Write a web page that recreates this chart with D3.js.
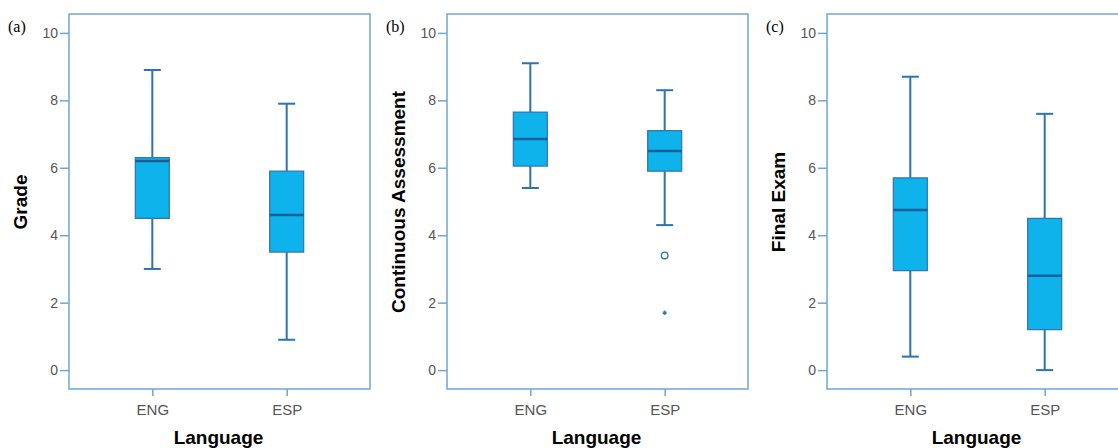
<!DOCTYPE html>
<html>
<head>
<meta charset="utf-8">
<script src="https://cdn.jsdelivr.net/npm/d3@7"></script>
<style>
    body { margin: 0; background: #fff; }
    svg { display: block; }
</style>
</head>
<body>
<script>
// categories on the x axis of every panel
const categories = ["ENG", "ESP"];
const yTicks = [0, 2, 4, 6, 8, 10];

// box stats: [lower whisker, Q1, median, Q3, upper whisker]
const gradeStats = [[3.0, 4.5, 6.2, 6.3, 8.9], [0.9, 3.5, 4.6, 5.9, 7.9]];
const continuousStats = [[5.4, 6.05, 6.85, 7.65, 9.1], [4.3, 5.9, 6.5, 7.1, 8.3]];
const finalStats = [[0.4, 2.95, 4.75, 5.7, 8.7], [0.0, 1.2, 2.8, 4.5, 7.6]];

// outliers (circle) and extremes (star)
const continuousOutliers = [
    { cat: "ESP", value: 3.4, kind: "circle" },
    { cat: "ESP", value: 1.7, kind: "star" }
];

const panelLabels = ["(a)", "(b)", "(c)"];
const panelTitles = ["Grade", "Continuous Assessment", "Final Exam"];

const FILL = "#0db3ea";
const LINE = "#2d73ad";
const MEDIAN = "#1b5e98";
const FRAME = "#6ea7d2";
const TEXT = "#555";

const W = 1118, H = 448;
const svg = d3.select("body").append("svg").attr("width", W).attr("height", H);

const panels = [
    { left: 69, stats: gradeStats, outliers: [] },
    { left: 447, stats: continuousStats, outliers: continuousOutliers },
    { left: 827, stats: finalStats, outliers: [] }
];
const frameW = 301, frameTop = 14, frameBottom = 389;
const boxW = 34, capW = 17;

panels.forEach((p, i) => {
    let g = svg.append("g");

    let y = d3.scaleLinear().domain([-0.56, 10.56]).range([frameBottom, frameTop]);
    let x = d3.scalePoint().domain(categories).range([p.left, p.left + frameW]).padding(0.62);

    // frame
    g.append("rect")
        .attr("x", p.left).attr("y", frameTop)
        .attr("width", frameW).attr("height", frameBottom - frameTop)
        .attr("fill", "none").attr("stroke", FRAME).attr("stroke-width", 1.5);

    // axes
    let ya = g.append("g")
        .attr("transform", "translate(" + p.left + ",0)")
        .call(d3.axisLeft(y).tickValues(yTicks).tickSize(9).tickPadding(2));
    let xa = g.append("g")
        .attr("transform", "translate(0," + frameBottom + ")")
        .call(d3.axisBottom(x).tickSize(7).tickPadding(8));
    [ya, xa].forEach(a => {
        a.select(".domain").remove();
        a.selectAll("line").attr("stroke", FRAME).attr("stroke-width", 1.5);
        a.selectAll("text").attr("fill", TEXT).style("font-family", "Liberation Sans, Arial, sans-serif");
    });
    ya.selectAll("text").style("font-size", "14px");
    xa.selectAll("text").style("font-size", "15px");

    // boxes
    let boxes = g.selectAll(".box")
        .data(p.stats.map((s, j) => ({ cat: categories[j], s: s })))
        .enter().append("g").attr("class", "box");

    boxes.append("line")
        .attr("x1", d => x(d.cat)).attr("x2", d => x(d.cat))
        .attr("y1", d => y(d.s[0])).attr("y2", d => y(d.s[1]))
        .attr("stroke", LINE).attr("stroke-width", 2);
    boxes.append("line")
        .attr("x1", d => x(d.cat)).attr("x2", d => x(d.cat))
        .attr("y1", d => y(d.s[3])).attr("y2", d => y(d.s[4]))
        .attr("stroke", LINE).attr("stroke-width", 2);
    [0, 4].forEach(k => {
        boxes.append("line")
            .attr("x1", d => x(d.cat) - capW / 2).attr("x2", d => x(d.cat) + capW / 2)
            .attr("y1", d => y(d.s[k])).attr("y2", d => y(d.s[k]))
            .attr("stroke", LINE).attr("stroke-width", 2);
    });
    boxes.append("rect")
        .attr("x", d => x(d.cat) - boxW / 2)
        .attr("y", d => y(d.s[3]))
        .attr("width", boxW)
        .attr("height", d => y(d.s[1]) - y(d.s[3]))
        .attr("fill", FILL).attr("stroke", LINE).attr("stroke-width", 1.2);
    boxes.append("line")
        .attr("x1", d => x(d.cat) - boxW / 2).attr("x2", d => x(d.cat) + boxW / 2)
        .attr("y1", d => y(d.s[2])).attr("y2", d => y(d.s[2]))
        .attr("stroke", MEDIAN).attr("stroke-width", 2.5);

    // outliers
    p.outliers.forEach(o => {
        if (o.kind === "circle") {
            g.append("circle")
                .attr("cx", x(o.cat)).attr("cy", y(o.value)).attr("r", 3.3)
                .attr("fill", "#fff").attr("stroke", LINE).attr("stroke-width", 1.3);
        } else {
            g.append("path")
                .attr("transform", "translate(" + x(o.cat) + "," + y(o.value) + ")")
                .attr("d", d3.symbol(d3.symbolAsterisk).size(14)())
                .attr("fill", "none").attr("stroke", LINE).attr("stroke-width", 1.2);
        }
    });

    // titles
    let titleX = p.left - 42;
    g.append("text")
        .attr("transform", "translate(" + titleX + ",202) rotate(-90)")
        .attr("text-anchor", "middle")
        .style("font-family", "Liberation Sans, Arial, sans-serif")
        .style("font-size", "19px").style("font-weight", "bold")
        .text(panelTitles[i]);
    g.append("text")
        .attr("x", p.left + frameW / 2 - 1).attr("y", 444)
        .attr("text-anchor", "middle")
        .style("font-family", "Liberation Sans, Arial, sans-serif")
        .style("font-size", "19px").style("font-weight", "bold")
        .text("Language");
    g.append("text")
        .attr("x", p.left - 61).attr("y", 32)
        .style("font-family", "Liberation Serif, Times New Roman, serif")
        .style("font-size", "16px")
        .text(panelLabels[i]);
});
</script>
</body>
</html>
